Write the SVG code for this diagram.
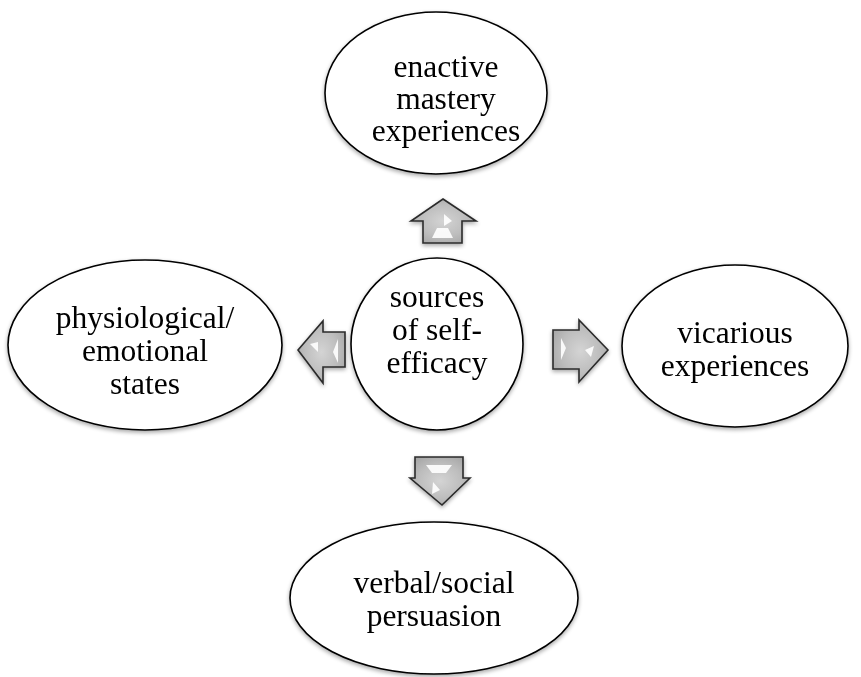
<svg xmlns="http://www.w3.org/2000/svg" width="861" height="677" viewBox="0 0 861 677">
  <defs>
    <filter id="shadow" x="-10%" y="-10%" width="120%" height="125%">
      <feGaussianBlur in="SourceAlpha" stdDeviation="2"/>
      <feOffset dx="0" dy="2" result="b"/>
      <feComponentTransfer><feFuncA type="linear" slope="0.35"/></feComponentTransfer>
      <feMerge><feMergeNode/><feMergeNode in="SourceGraphic"/></feMerge>
    </filter>
    <radialGradient id="arrowFill" cx="50%" cy="50%" r="60%">
      <stop offset="0" stop-color="#d4d4d4"/>
      <stop offset="0.6" stop-color="#bdbdbd"/>
      <stop offset="1" stop-color="#a6a6a6"/>
    </radialGradient>
  </defs>
  <style>
    .node { fill: #ffffff; stroke: #000000; stroke-width: 1.6; }
    .label { font-family: "Liberation Serif", "Times New Roman", serif; font-size: 31.5px; fill: #000000; text-anchor: middle; }
    .arrow { fill: url(#arrowFill); stroke: #2b2b2b; stroke-width: 1.6; stroke-linejoin: miter; }
    .shine { fill: #ffffff; opacity: 0.9; }
  </style>

  <rect width="861" height="677" fill="#ffffff"/>

  <!-- block arrows from the centre outward -->
  <g id="connectors" filter="url(#shadow)">
    <g id="arrow-up">
      <polygon class="arrow" points="443,199 476,221 462,221 462,243 423,243 423,221 411,221"/>
      <polygon class="shine" points="444,214 452,221 444,226"/>
      <polygon class="shine" points="437,228 448,228 453,238 432,238"/>
    </g>
    <g id="arrow-left">
      <polygon class="arrow" points="298,350 323,321 323,332 345,332 345,367 323,367 323,383"/>
      <polygon class="shine" points="310,344 318,342 318,352"/>
      <polygon class="shine" points="338,339 333,352 338,363"/>
    </g>
    <g id="arrow-right">
      <polygon class="arrow" points="608,350 579,320 579,330 553,330 553,369 579,369 579,382"/>
      <polygon class="shine" points="561,338 566,348 561,360"/>
      <polygon class="shine" points="585,350 594,346 591,357"/>
    </g>
    <g id="arrow-down">
      <polygon class="arrow" points="442,505 470,478 463,478 463,457 415,457 415,478 410,478"/>
      <polygon class="shine" points="426,465 452,465 446,473 432,473"/>
      <polygon class="shine" points="433,482 440,490 432,494"/>
    </g>
  </g>

  <g id="centre" filter="url(#shadow)">
    <circle class="node" cx="437" cy="344" r="86"/>
    <text class="label" x="437" y="307">sources</text>
    <text class="label" x="437" y="340">of self-</text>
    <text class="label" x="437" y="373">efficacy</text>
  </g>

  <g id="enactive" filter="url(#shadow)">
    <ellipse class="node" cx="436" cy="93" rx="111" ry="81"/>
    <text class="label" x="446" y="77">enactive</text>
    <text class="label" x="446" y="109">mastery</text>
    <text class="label" x="446" y="141">experiences</text>
  </g>

  <g id="physiological" filter="url(#shadow)">
    <ellipse class="node" cx="145" cy="345" rx="137" ry="85"/>
    <text class="label" x="145" y="328">physiological/</text>
    <text class="label" x="145" y="361">emotional</text>
    <text class="label" x="145" y="394">states</text>
  </g>

  <g id="vicarious" filter="url(#shadow)">
    <ellipse class="node" cx="735" cy="346" rx="113" ry="81"/>
    <text class="label" x="735" y="343">vicarious</text>
    <text class="label" x="735" y="376">experiences</text>
  </g>

  <g id="verbal" filter="url(#shadow)">
    <ellipse class="node" cx="434" cy="598" rx="144" ry="76"/>
    <text class="label" x="434" y="593">verbal/social</text>
    <text class="label" x="434" y="626">persuasion</text>
  </g>
</svg>
